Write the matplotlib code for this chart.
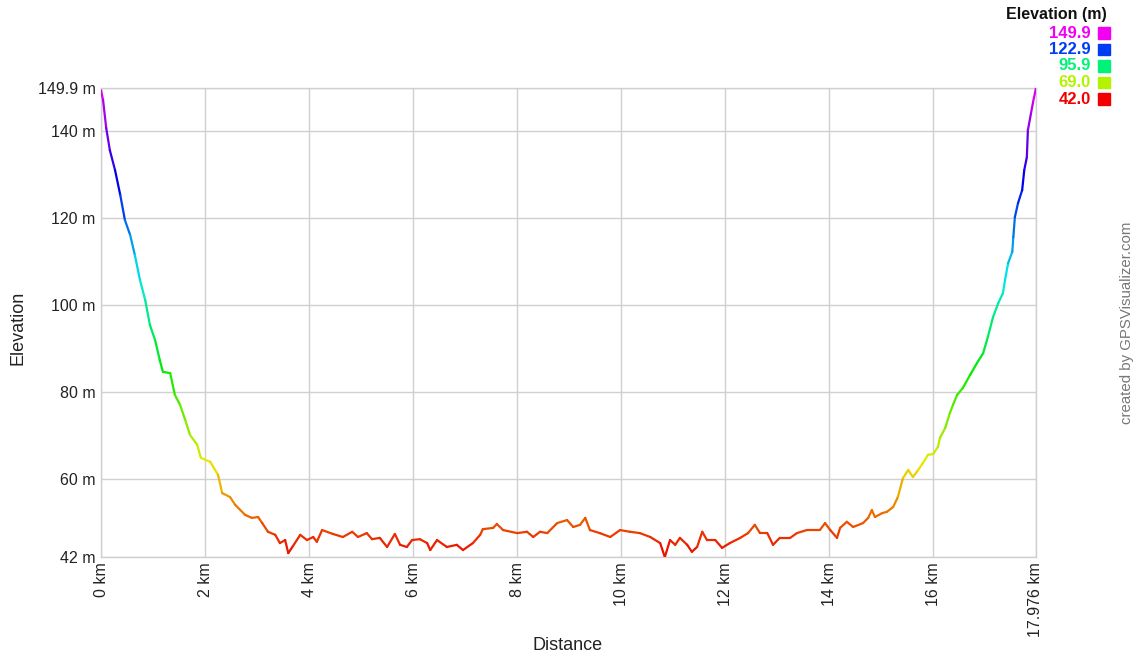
import numpy as np
import matplotlib.pyplot as plt
import matplotlib.colors as mcolors
from matplotlib.collections import LineCollection

plt.rcParams['font.family'] = ['Liberation Sans', 'DejaVu Sans']

# elevation profile
dist_km = [
    0.00, 0.04, 0.10, 0.17, 0.27, 0.37, 0.46, 0.56, 0.65, 0.75, 0.85, 0.94,
    1.04, 1.13, 1.19, 1.33, 1.42, 1.52, 1.62, 1.71, 1.85, 1.92, 2.10, 2.25,
    2.33, 2.48, 2.58, 2.77, 2.90, 3.02, 3.10, 3.21, 3.35, 3.44, 3.54, 3.60,
    3.69, 3.83, 3.96, 4.08, 4.15, 4.25, 4.46, 4.65, 4.83, 4.94, 5.11, 5.21,
    5.36, 5.50, 5.65, 5.75, 5.88, 5.98, 6.13, 6.27, 6.33, 6.46, 6.65, 6.84,
    6.96, 7.15, 7.29, 7.34, 7.54, 7.61, 7.73, 8.00, 8.19, 8.31, 8.44, 8.58,
    8.77, 8.96, 9.08, 9.21, 9.31, 9.40, 9.59, 9.79, 9.98, 10.17, 10.36, 10.56,
    10.75, 10.84, 10.94, 11.04, 11.13, 11.27, 11.36, 11.46, 11.56, 11.65, 11.81, 11.94,
    12.09, 12.29, 12.44, 12.57, 12.67, 12.81, 12.92, 13.05, 13.25, 13.38, 13.57, 13.82,
    13.92, 14.02, 14.15, 14.21, 14.34, 14.46, 14.65, 14.75, 14.82, 14.88, 15.02, 15.11,
    15.23, 15.32, 15.42, 15.52, 15.61, 15.71, 15.80, 15.90, 16.00, 16.09, 16.13, 16.23,
    16.32, 16.38, 16.46, 16.57, 16.71, 16.84, 16.96, 17.05, 17.15, 17.25, 17.34, 17.38,
    17.44, 17.52, 17.54, 17.57, 17.63, 17.71, 17.75, 17.80, 17.82, 17.88, 17.92, 17.976,
]
elev_m = [
    149.4, 147.1, 140.7, 135.6, 131.0, 125.3, 119.5, 116.1, 111.5, 105.7, 101.1, 95.4,
    91.9, 87.3, 84.6, 84.3, 79.3, 77.0, 73.5, 70.1, 67.8, 64.8, 63.9, 60.9,
    56.7, 55.8, 54.0, 51.7, 51.0, 51.2, 49.8, 47.8, 47.1, 45.2, 45.9, 42.9,
    44.5, 47.1, 45.9, 46.6, 45.5, 48.2, 47.3, 46.6, 47.8, 46.6, 47.5, 46.1,
    46.4, 44.3, 47.3, 44.8, 44.3, 45.9, 46.1, 45.2, 43.6, 45.9, 44.3, 44.8,
    43.6, 45.2, 47.1, 48.4, 48.7, 49.6, 48.2, 47.5, 47.8, 46.6, 47.8, 47.5,
    49.8, 50.5, 48.9, 49.4, 51.0, 48.2, 47.5, 46.6, 48.2, 47.8, 47.5, 46.6,
    45.2, 42.0, 45.9, 44.8, 46.4, 44.8, 43.2, 44.3, 47.8, 45.9, 45.9, 44.1,
    45.2, 46.4, 47.5, 49.4, 47.5, 47.5, 44.8, 46.4, 46.4, 47.5, 48.2, 48.2,
    49.8, 48.2, 46.4, 48.7, 50.1, 48.9, 49.8, 51.0, 52.8, 51.2, 52.1, 52.4,
    53.5, 55.8, 60.2, 62.0, 60.4, 62.0, 63.6, 65.5, 65.7, 67.3, 69.4, 71.7,
    75.1, 77.0, 79.3, 80.9, 83.9, 86.6, 88.9, 92.6, 97.2, 100.4, 102.7, 105.7,
    109.6, 112.2, 115.6, 120.2, 123.4, 126.4, 131.0, 134.0, 140.2, 144.1, 146.7, 149.9,
]

elev_min, elev_max = 42.0, 149.9
total_km = 17.976
x_ticks = [0, 2, 4, 6, 8, 10, 12, 14, 16, 17.976]
x_labels = ["0 km", "2 km", "4 km", "6 km", "8 km", "10 km", "12 km", "14 km", "16 km", "17.976 km"]
y_ticks = [42, 60, 80, 100, 120, 140, 149.9]
y_labels = ["42 m", "60 m", "80 m", "100 m", "120 m", "140 m", "149.9 m"]
legend_vals = [149.9, 122.9, 95.9, 69.0, 42.0]


def elev_color(e, v=0.92):
    # hue runs red -> yellow -> green -> blue -> magenta
    f = np.clip((e - elev_min) / (elev_max - elev_min), 0, 1)
    return mcolors.hsv_to_rgb([f * 300 / 360, 1.0, v])


x = np.array(dist_km)
y = np.array(elev_m)

W, H = 1137, 660
fig = plt.figure(figsize=(W / 100, H / 100), dpi=100, facecolor="white")
ax = fig.add_axes([101 / W, 103 / H, 935 / W, 469 / H])

pts = np.column_stack([x, y]).reshape(-1, 1, 2)
segs = np.concatenate([pts[:-1], pts[1:]], axis=1)
cols = [elev_color((a + b) / 2) for a, b in zip(y[:-1], y[1:])]
lc = LineCollection(segs, colors=cols, linewidths=1.6, capstyle="round", joinstyle="round", zorder=3)
ax.add_collection(lc)

ax.set_xlim(0, total_km)
ax.set_ylim(elev_min, elev_max)
ax.set_xticks(x_ticks)
ax.set_xticklabels(x_labels, rotation=90, fontsize=11.5, color="#222222")
ax.set_yticks(y_ticks)
ax.set_yticklabels(y_labels, fontsize=11.5, color="#222222")
ax.tick_params(length=0, pad=4)
ax.grid(True, color="#d0d0d0", linewidth=1)
for s in ax.spines.values():
    s.set_color("#d0d0d0")
    s.set_linewidth(1)

fig.text(18 / W, 1 - 328 / H, "Elevation", rotation=90, ha="center", va="center",
         fontsize=13, color="#222222")
fig.text(568 / W, 1 - 646 / H, "Distance", ha="center", va="center",
         fontsize=13, color="#222222")

fig.text(1127 / W, 1 - 323 / H, "created by GPSVisualizer.com", rotation=90,
         ha="center", va="center", fontsize=10.8, color="#777777")

# elevation legend, top right
fig.text(1107 / W, 1 - 14 / H, "Elevation (m)", ha="right", va="center",
         fontsize=11.5, fontweight="bold", color="#111111")
for i, v in enumerate(legend_vals):
    yy = 1 - (33 + i * 16.5) / H
    c = elev_color(v, v=0.95)
    fig.text(1091 / W, yy, f"{v:.1f}", ha="right", va="center", fontsize=12,
             fontweight="bold", color=c)
    fig.patches.append(plt.Rectangle((1098 / W, yy - 5.5 / H), 12 / W, 11 / H,
                                     transform=fig.transFigure, color=c))

fig.savefig("out.png", dpi=100, facecolor="white")
